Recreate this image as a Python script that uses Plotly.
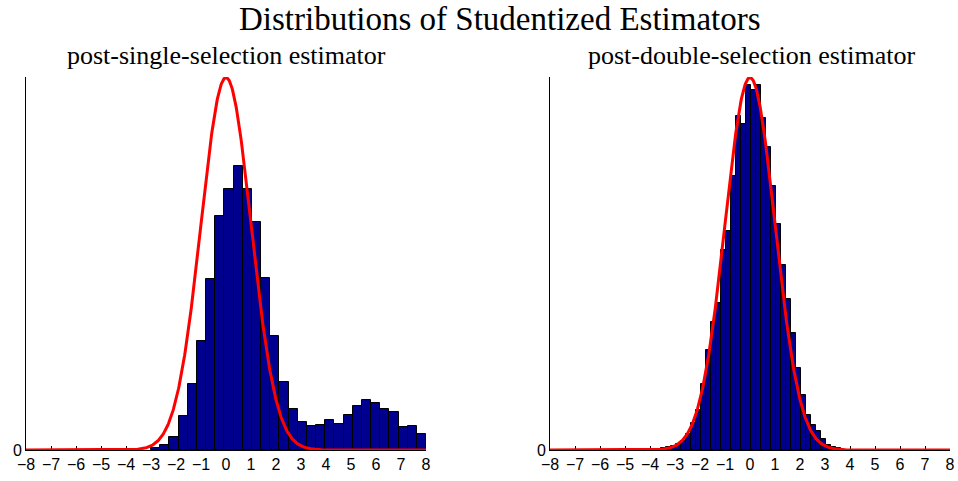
import numpy as np
import plotly.graph_objects as go

# ---- data ----
# Left panel: post-single-selection estimator (30 bins from -3 to 8)
left_bin_start = -3.0
left_bin_width = 0.3667
left_density = [0.002, 0.005, 0.014, 0.036, 0.071, 0.117, 0.183, 0.251, 0.280, 0.304,
                0.280, 0.244, 0.184, 0.122, 0.073, 0.044, 0.030, 0.026, 0.027, 0.032,
                0.028, 0.037, 0.047, 0.054, 0.050, 0.044, 0.041, 0.025, 0.026, 0.017]

# Right panel: post-double-selection estimator (37 bins from -3.76)
right_bin_start = -3.76
right_bin_width = 0.2
right_density = [0.001, 0.002, 0.003, 0.004, 0.006, 0.010, 0.017, 0.029, 0.043, 0.071,
                 0.107, 0.137, 0.157, 0.214, 0.235, 0.293, 0.358, 0.349, 0.391, 0.386,
                 0.391, 0.356, 0.324, 0.283, 0.242, 0.198, 0.162, 0.125, 0.088, 0.059,
                 0.037, 0.027, 0.020, 0.012, 0.005, 0.003, 0.002]

x_ticks = list(range(-8, 9))
main_title = "Distributions of Studentized Estimators"
sub_titles = ["post-single-selection estimator", "post-double-selection estimator"]

# ---- build figure ----
def centers(start, width, n):
    return [start + width * (i + 0.5) for i in range(n)]

xs = np.linspace(-8, 8, 801)
pdf = np.exp(-xs ** 2 / 2) / np.sqrt(2 * np.pi)

bar_color = "rgb(0,0,143)"
fig = go.Figure()
panels = [
    (left_bin_start, left_bin_width, left_density, "x", "y"),
    (right_bin_start, right_bin_width, right_density, "x2", "y2"),
]
for start, width, dens, xa, ya in panels:
    fig.add_trace(go.Bar(
        x=centers(start, width, len(dens)), y=dens, width=width,
        marker=dict(color=bar_color, line=dict(color="black", width=1)),
        xaxis=xa, yaxis=ya, hoverinfo="skip"))
    fig.add_trace(go.Scatter(
        x=xs, y=pdf, mode="lines", line=dict(color="rgb(255,0,0)", width=3),
        cliponaxis=False, xaxis=xa, yaxis=ya, hoverinfo="skip"))

W, H = 958, 481

def px_x(p):
    return p / W

def px_y(p):
    return 1 - p / H

y_dom = [px_y(450), px_y(77)]
tick_font = dict(family="Liberation Sans, Arial, sans-serif", size=16, color="black")

def xaxis(dom):
    return dict(domain=dom, range=[-8, 8], tickvals=x_ticks, ticks="inside", ticklen=4,
                tickcolor="black", showline=True, linecolor="black", linewidth=1,
                showgrid=False, zeroline=False, tickfont=tick_font, layer="below traces",
                fixedrange=True, automargin=False)

def yaxis(anchor):
    return dict(domain=y_dom, range=[0, 0.3995], tickvals=[0], ticktext=["0"], ticks="",
                showline=True, linecolor="black", linewidth=1, showgrid=False,
                zeroline=False, tickfont=tick_font, anchor=anchor, fixedrange=True,
                automargin=False)

fig.update_layout(
    width=W, height=H, margin=dict(l=0, r=0, t=0, b=0),
    paper_bgcolor="white", plot_bgcolor="white", showlegend=False, bargap=0,
    xaxis=dict(xaxis([px_x(26), px_x(426)]), anchor="y"),
    yaxis=yaxis("x"),
    xaxis2=dict(xaxis([px_x(550), px_x(950)]), anchor="y2"),
    yaxis2=yaxis("x2"),
)

serif = "Liberation Serif, Times New Roman, serif"
fig.add_annotation(text=main_title, x=px_x(500), y=px_y(19), xref="paper", yref="paper",
                   showarrow=False, xanchor="center", yanchor="middle",
                   font=dict(family=serif, size=33, color="black"))
for cx, t in zip([226, 751], sub_titles):
    fig.add_annotation(text=t, x=px_x(cx), y=px_y(55), xref="paper", yref="paper",
                       showarrow=False, xanchor="center", yanchor="middle",
                       font=dict(family=serif, size=26, color="black"))

fig.write_html(
    "out.html",
    config={"displayModeBar": False},
    post_script="document.body.style.margin='0';document.body.style.overflow='hidden';",
)
